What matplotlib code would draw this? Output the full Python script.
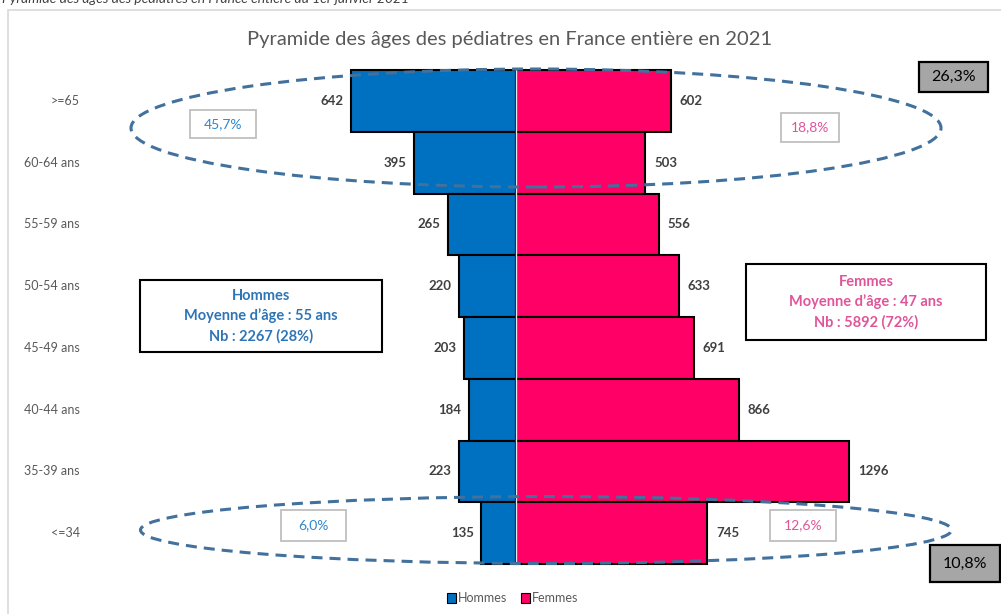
import matplotlib
matplotlib.use("Agg")
import matplotlib.pyplot as plt
from matplotlib.patches import Ellipse, Rectangle

plt.rcParams['font.family'] = ['Lato', 'DejaVu Sans']

age_groups = [">=65", "60-64 ans", "55-59 ans", "50-54 ans", "45-49 ans", "40-44 ans", "35-39 ans", "<=34"]
hommes = [642, 395, 265, 220, 203, 184, 223, 135]
femmes = [602, 503, 556, 633, 691, 866, 1296, 745]
title = "Pyramide des âges des pédiatres en France entière en 2021"
hommes_box = ["Hommes", "Moyenne d\u2019âge : 55 ans", "Nb : 2267 (28%)"]
femmes_box = ["Femmes", "Moyenne d\u2019âge : 47 ans", "Nb : 5892 (72%)"]
pct_left = ["45,7%", "6,0%"]
pct_right = ["18,8%", "12,6%"]
pct_total = ["26,3%", "10,8%"]

BLUE = "#0070C0"
PINK = "#FF0066"
W, H = 1001, 614
fig = plt.figure(figsize=(W / 100, H / 100), dpi=100)

def fx(x):
    return x / W

def fy(y):
    return 1 - y / H

# axes covering the whole figure, data mapped so that centre line is at x=516 px
scale = 0.257  # px per unit
x0 = 516
row_h = 61.75
top = 70
ax = fig.add_axes([0, 0, 1, 1])
ax.set_xlim(-x0 / scale, (W - x0) / scale)
ax.set_ylim((H - top) / row_h - 0.5, -top / row_h - 0.5)
ax.axis("off")

# chart frame
fig.patches.append(Rectangle((fx(8), fy(H + 5)), fx(W), (H - 10 + 5) / H, transform=fig.transFigure,
                             fill=False, edgecolor="#D9D9D9", lw=1.2, zorder=0))
# partially visible caption above the frame (cut off as in the source)
fig.text(fx(2), fy(-1), "Pyramide des âges des pédiatres en France entière au 1er janvier 2021",
         ha="left", va="center", fontsize=10, color="#404040", fontstyle="italic")

ys = list(range(len(age_groups)))
ax.barh(ys, [-v for v in hommes], height=1.0, color=BLUE, edgecolor="black", lw=1.5, zorder=2)
ax.barh(ys, femmes, height=1.0, color=PINK, edgecolor="black", lw=1.5, zorder=2)
ax.plot([0, 0], [-0.5, len(age_groups) - 0.5], color="#E8E8E8", lw=1, zorder=3)

for i, (h, f) in enumerate(zip(hommes, femmes)):
    ax.text(-h - 30, i, str(h), ha="right", va="center", fontsize=9.5, fontweight="bold", color="#404040", zorder=4)
    ax.text(f + 35, i, str(f), ha="left", va="center", fontsize=9.5, fontweight="bold", color="#404040", zorder=4)
    ax.text((80 - x0) / scale, i, age_groups[i], ha="right", va="center", fontsize=9, color="#595959")

fig.text(fx(510), fy(40), title, ha="center", va="center", fontsize=14.5, color="#595959")

# dashed ellipses
dash = dict(fill=False, edgecolor="#41719C", lw=2.2, linestyle=(0, (3.6, 2.3)), transform=fig.transFigure, zorder=5)
fig.patches.append(Ellipse((fx(536), fy(128)), 810 / W, 118 / H, **dash))
fig.patches.append(Ellipse((fx(546), fy(530)), 811 / W, 67 / H, **dash))

def box(x1, y1, x2, y2, text, color, fc="white", ec="#BFBFBF", lw=1.3, fs=10):
    fig.patches.append(Rectangle((fx(x1), fy(y2)), (x2 - x1) / W, (y2 - y1) / H, transform=fig.transFigure,
                                 facecolor=fc, edgecolor=ec, lw=lw, zorder=6))
    fig.text(fx((x1 + x2) / 2), fy((y1 + y2) / 2), text, ha="center", va="center", fontsize=fs,
             color=color, zorder=7)

box(190, 110, 256, 138, pct_left[0], "#2E86D1")
box(281, 510, 346, 541, pct_left[1], "#2E86D1")
box(781, 113, 839, 142, pct_right[0], "#E0559A")
box(770, 510, 836, 541, pct_right[1], "#E0559A")
box(919, 62, 988, 92, pct_total[0], "black", fc="#A6A6A6", ec="black", lw=1.6, fs=11.5)
box(930, 545, 1000, 582, pct_total[1], "black", fc="#A6A6A6", ec="black", lw=1.6, fs=11.5)

def info_box(x1, y1, x2, y2, lines, color):
    fig.patches.append(Rectangle((fx(x1), fy(y2)), (x2 - x1) / W, (y2 - y1) / H, transform=fig.transFigure,
                                 facecolor="white", edgecolor="black", lw=1.5, zorder=6))
    cy = (y1 + y2) / 2
    for k, line in enumerate(lines):
        fig.text(fx((x1 + x2) / 2), fy(cy + (k - 1) * 20.5), line, ha="center", va="center",
                 fontsize=10.5, fontweight="bold", color=color, zorder=7)

info_box(140, 280, 382, 352, hommes_box, "#2E75B6")
info_box(746, 264, 986, 340, femmes_box, "#E0559A")

# legend
leg = [("Hommes", BLUE, 447), ("Femmes", PINK, 521)]
for name, c, px in leg:
    fig.patches.append(Rectangle((fx(px), fy(603)), 9 / W, 10 / H, transform=fig.transFigure,
                                 facecolor=c, edgecolor="black", lw=0.8))
    fig.text(fx(px + 11), fy(598), name, ha="left", va="center", fontsize=9, color="#595959")

fig.savefig("out.png", dpi=100)
